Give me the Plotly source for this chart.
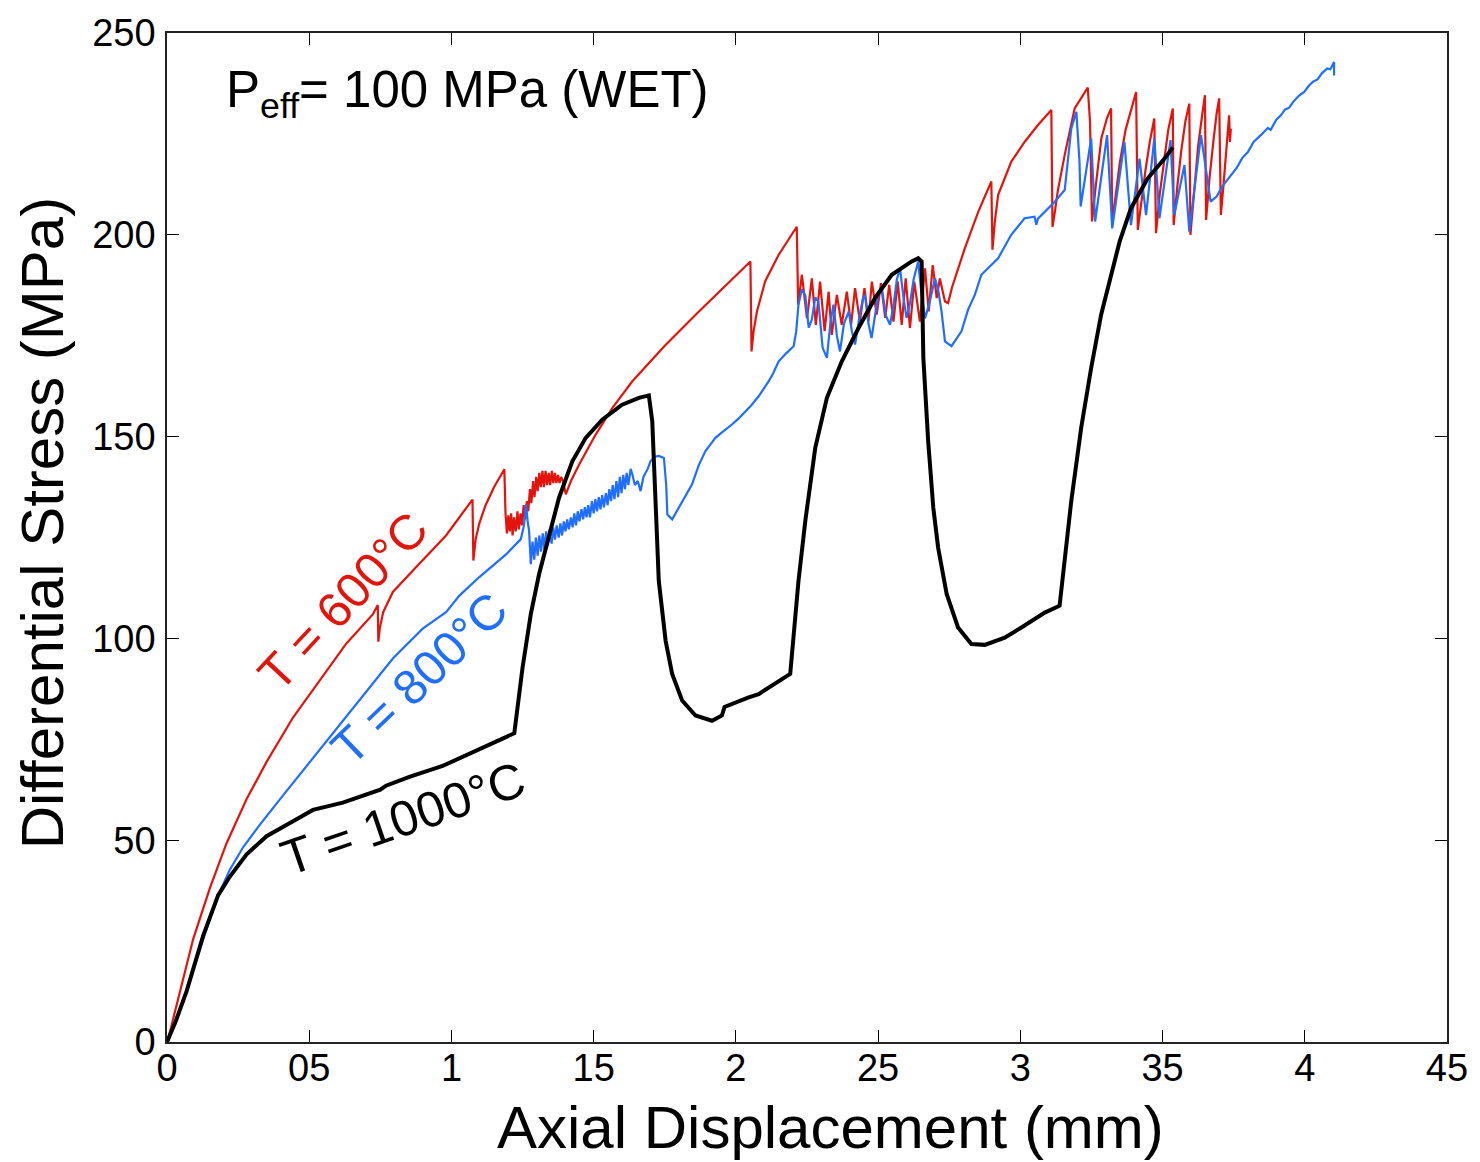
import plotly.graph_objects as go

# ---------------- data: axial displacement (mm) vs differential stress (MPa) ----------------
# T = 600 C
disp_600 = [
    0.000, 0.005, 0.046, 0.092, 0.151, 0.209, 0.280, 0.350, 0.443, 0.537, 0.630, 0.724, 0.741, 0.743,
    0.748, 0.760, 0.794, 0.887, 0.981, 1.074, 1.077, 1.085, 1.098, 1.120, 1.150, 1.186, 1.190, 1.195,
    1.200, 1.205, 1.210, 1.215, 1.220, 1.226, 1.232, 1.237, 1.243, 1.248, 1.254, 1.259, 1.265, 1.270,
    1.276, 1.281, 1.287, 1.292, 1.298, 1.303, 1.309, 1.314, 1.320, 1.325, 1.331, 1.336, 1.342, 1.347,
    1.353, 1.358, 1.364, 1.369, 1.375, 1.380, 1.386, 1.392, 1.398, 1.402, 1.420, 1.449, 1.507, 1.566,
    1.636, 1.750, 1.870, 2.010, 2.051, 2.055, 2.062, 2.074, 2.103, 2.150, 2.214, 2.219,
    2.232, 2.250, 2.267, 2.281, 2.296, 2.312, 2.326, 2.337, 2.355, 2.372, 2.390, 2.405, 2.419, 2.436,
    2.452, 2.466, 2.478, 2.495, 2.510, 2.525, 2.539, 2.554, 2.569, 2.583, 2.597, 2.612, 2.627, 2.647,
    2.665, 2.678, 2.692, 2.706, 2.717, 2.735, 2.746, 2.760, 2.780, 2.805, 2.852, 2.898, 2.902, 2.910,
    2.922, 2.968, 3.015, 3.062, 3.109, 3.113, 3.120, 3.132, 3.156, 3.191, 3.215, 3.237, 3.245, 3.252,
    3.265, 3.285, 3.305, 3.319, 3.323, 3.335, 3.350, 3.370, 3.390, 3.407, 3.413, 3.425, 3.440, 3.455,
    3.471, 3.477, 3.490, 3.505, 3.520, 3.536, 3.539, 3.552, 3.566, 3.580, 3.594, 3.598, 3.612, 3.625,
    3.638, 3.649, 3.653, 3.665, 3.680, 3.690, 3.699, 3.705, 3.715, 3.725, 3.734, 3.737, 3.740,
]
stress_600 = [
    0.0, 1.0, 12.6, 25.5, 38.2, 49.2, 60.2, 69.4, 80.4, 89.5, 98.7, 106.0, 108.3, 99.2,
    102.5, 106.5, 111.5, 118.5, 125.5, 134.4, 119.3, 124.5, 128.5, 133.0, 137.5, 141.9, 131.0, 126.0,
    130.5, 126.5, 131.0, 125.5, 130.0, 126.5, 131.5, 127.0, 131.0, 128.0, 133.0, 129.5, 134.0, 131.5,
    137.0, 133.5, 139.0, 135.0, 140.0, 136.5, 141.0, 137.5, 141.5, 137.5, 141.5, 138.0, 141.0, 138.0,
    141.5, 138.5, 141.0, 138.5, 140.5, 138.5, 140.0, 139.0, 137.0, 135.7, 139.0, 143.1, 150.5, 157.1,
    163.7, 172.5, 181.0, 190.5, 193.4, 171.1, 176.0, 181.0, 188.5, 195.0, 202.0, 182.7,
    190.1, 179.3, 189.2, 177.7, 188.4, 176.1, 185.9, 175.2, 185.1, 177.7, 185.9, 177.7, 186.8, 178.5,
    186.8, 178.5, 188.4, 180.2, 188.0, 179.4, 187.6, 178.5, 188.4, 177.7, 189.2, 176.9, 188.4, 178.5,
    191.7, 181.0, 192.5, 184.3, 189.2, 183.5, 183.1, 187.0, 191.5, 196.7, 205.7, 213.2, 196.3, 203.0,
    209.9, 218.1, 223.0, 227.2, 230.9, 202.0, 205.0, 211.0, 219.8, 231.3, 234.0, 236.5, 228.0, 203.3,
    212.0, 224.0, 229.0, 231.3, 203.0, 210.0, 218.0, 226.0, 231.0, 235.4, 201.2, 208.0, 216.0, 223.0,
    228.8, 200.4, 210.0, 218.0, 226.0, 231.3, 202.4, 212.0, 221.0, 228.0, 232.5, 200.0, 212.0, 222.0,
    229.0, 234.6, 203.7, 214.0, 224.0, 230.0, 233.8, 204.9, 213.0, 222.0, 229.6, 223.0, 226.3,
]

# T = 800 C
disp_800 = [
    0.000, 0.035, 0.069, 0.127, 0.180, 0.221, 0.268, 0.326, 0.408, 0.502, 0.595, 0.700, 0.794, 0.899,
    0.981, 1.028, 1.098, 1.192, 1.244, 1.255, 1.262, 1.268, 1.273, 1.279,
    1.285, 1.291, 1.297, 1.303, 1.309, 1.315, 1.321, 1.327, 1.333, 1.339, 1.345, 1.352, 1.358, 1.364,
    1.370, 1.377, 1.383, 1.389, 1.395, 1.401, 1.407, 1.413, 1.420, 1.426, 1.432, 1.438, 1.444, 1.450,
    1.457, 1.463, 1.469, 1.475, 1.481, 1.487, 1.494, 1.500, 1.506, 1.512, 1.518, 1.524, 1.530, 1.536,
    1.543, 1.549, 1.555, 1.561, 1.567, 1.573, 1.580, 1.586, 1.592, 1.598, 1.604, 1.610, 1.616, 1.622,
    1.630, 1.636, 1.645, 1.655, 1.665, 1.675, 1.690, 1.700, 1.715, 1.729, 1.747, 1.755, 1.759, 1.776,
    1.799, 1.820, 1.846, 1.870, 1.893, 1.910, 1.928, 1.950, 1.970, 1.986, 2.010, 2.030, 2.056, 2.080,
    2.100, 2.115, 2.130, 2.150, 2.175, 2.203, 2.212, 2.220,
    2.232, 2.244, 2.256, 2.267, 2.279, 2.290, 2.305, 2.320, 2.332, 2.343, 2.355, 2.366, 2.380, 2.397,
    2.408, 2.419, 2.435, 2.446, 2.454, 2.466, 2.477, 2.490, 2.502, 2.513, 2.527, 2.542, 2.555, 2.566,
    2.577, 2.590, 2.600, 2.612, 2.625, 2.641, 2.650, 2.665, 2.680, 2.700, 2.712, 2.723, 2.735, 2.758,
    2.793, 2.816, 2.840, 2.863, 2.922, 2.968, 3.015, 3.050, 3.056, 3.062, 3.086, 3.121, 3.156, 3.179,
    3.197, 3.208, 3.212, 3.249, 3.263, 3.305, 3.323, 3.366, 3.389, 3.419, 3.442, 3.471, 3.489, 3.528,
    3.541, 3.577, 3.594, 3.635, 3.669, 3.690, 3.710, 3.740, 3.760, 3.780, 3.800, 3.820, 3.834, 3.850,
    3.870, 3.880, 3.900, 3.916, 3.930, 3.945, 3.960, 3.980, 3.998, 4.015, 4.030, 4.045, 4.060, 4.079,
    4.090, 4.103, 4.103,
]
stress_800 = [
    0.0, 6.0, 12.6, 25.5, 36.4, 42.7, 48.3, 53.8, 61.1, 69.4, 77.6, 86.8, 95.0, 102.4,
    106.5, 110.6, 115.2, 120.8, 124.6, 128.0, 133.2, 129.0, 126.6, 118.4,
    124.0, 119.5, 125.0, 120.5, 125.5, 121.5, 126.0, 122.0, 126.5, 123.0, 127.0, 123.5, 127.5, 124.5,
    128.0, 125.0, 128.5, 125.5, 129.0, 126.5, 129.5, 127.0, 130.0, 127.5, 131.0, 128.0, 131.5, 129.0,
    132.0, 129.5, 132.5, 130.0, 133.0, 130.0, 134.0, 131.0, 134.5, 131.5, 135.0, 132.0, 135.5, 132.5,
    136.0, 133.0, 137.0, 134.0, 138.0, 134.5, 139.0, 135.0, 140.0, 136.0, 140.5, 137.0, 141.0, 138.0,
    142.0, 140.6, 138.0, 139.0, 136.5, 140.0, 142.0, 143.9, 145.0, 145.2, 144.7, 138.0, 130.7, 129.5,
    132.4, 135.0, 138.2, 143.0, 146.4, 148.0, 149.7, 151.0, 152.0, 153.0, 154.5, 156.0, 157.9, 160.0,
    162.0, 163.7, 165.5, 168.6, 170.5, 172.4, 176.0, 182.7,
    186.5, 185.0, 177.0, 179.0, 184.5, 183.5, 172.0, 169.5, 178.0, 182.7, 175.0, 171.1, 178.0, 181.0,
    176.0, 172.8, 180.0, 184.0, 185.1, 178.0, 174.4, 181.0, 186.0, 186.8, 180.0, 177.7, 183.0, 189.0,
    191.7, 184.0, 179.4, 183.0, 189.0, 193.4, 187.0, 179.3, 183.0, 189.2, 186.0, 181.0, 173.6, 172.4,
    176.1, 181.4, 185.1, 190.1, 194.2, 200.0, 204.1, 204.5, 202.5, 204.0, 205.7, 208.2, 211.1, 226.3,
    230.5, 218.1, 207.0, 223.9, 203.3, 224.7, 201.6, 223.0, 202.4, 218.9, 204.9, 223.9, 204.1, 223.5,
    204.9, 217.3, 200.8, 224.7, 208.2, 209.5, 212.0, 214.8, 216.5, 219.0, 220.5, 223.0, 223.9, 225.0,
    226.5, 226.0, 228.5, 229.6, 231.0, 231.5, 233.0, 234.5, 235.4, 237.0, 238.0, 238.5, 240.0, 241.2,
    241.0, 242.8, 239.5,
]

# T = 1000 C
disp_1000 = [
    0.000, 0.030, 0.069, 0.127, 0.180, 0.221, 0.280, 0.350, 0.443, 0.513, 0.618, 0.724, 0.750, 0.770,
    0.852, 0.969, 1.086, 1.221, 1.250, 1.279, 1.308, 1.343, 1.378, 1.425, 1.472, 1.530, 1.600, 1.659,
    1.694, 1.706, 1.718, 1.729, 1.753, 1.776, 1.811, 1.858, 1.916, 1.951, 1.960, 1.986, 2.045, 2.080,
    2.127, 2.191, 2.220, 2.244, 2.279, 2.320, 2.372, 2.431, 2.489, 2.548, 2.618, 2.641, 2.653, 2.659,
    2.676, 2.694, 2.711, 2.741, 2.781, 2.828, 2.875, 2.945, 3.004, 3.086, 3.138, 3.156, 3.179, 3.214,
    3.249, 3.284, 3.319, 3.349, 3.389, 3.448, 3.507, 3.536,
]
stress_1000 = [
    0.0, 5.0, 12.6, 26.3, 36.4, 41.0, 46.5, 51.0, 54.7, 57.5, 59.3, 62.0, 62.5, 63.5,
    65.7, 68.4, 72.1, 76.5, 92.8, 106.0, 115.9, 125.8, 134.8, 143.9, 149.7, 154.2, 157.9, 159.6,
    160.2, 153.8, 130.7, 114.2, 99.4, 91.2, 84.6, 80.9, 79.6, 80.9, 83.0, 83.8, 85.4, 86.2,
    88.3, 91.2, 114.2, 129.1, 147.2, 159.6, 168.6, 176.9, 184.3, 190.1, 193.4, 194.2, 193.4, 169.5,
    148.9, 132.4, 122.5, 111.0, 102.7, 98.6, 98.4, 100.2, 102.7, 106.4, 108.1, 120.0, 134.0, 152.2,
    167.0, 180.2, 190.1, 198.3, 206.6, 214.0, 218.9, 221.6,
]

x_tickvals = [0, 0.5, 1, 1.5, 2, 2.5, 3, 3.5, 4, 4.5]
x_ticktext = ["0", "05", "1", "15", "2", "25", "3", "35", "4", "45"]
y_tickvals = [0, 50, 100, 150, 200, 250]

RED = "#E3140C"
BLUE = "#1F6EFF"
BLACK = "#000000"
FONT = "Liberation Sans, Arial, Helvetica, sans-serif"

fig = go.Figure()
fig.add_trace(go.Scatter(x=disp_600, y=stress_600, mode="lines",
                         line=dict(color=RED, width=2.2), name="T = 600°C"))
fig.add_trace(go.Scatter(x=disp_800, y=stress_800, mode="lines",
                         line=dict(color=BLUE, width=2.2), name="T = 800°C"))
fig.add_trace(go.Scatter(x=disp_1000, y=stress_1000, mode="lines",
                         line=dict(color=BLACK, width=4), name="T = 1000°C"))

axis_common = dict(
    ticks="inside", ticklen=12, tickwidth=1.2, tickcolor="black",
    showline=True, linecolor="#222", linewidth=1.5, mirror="ticks",
    showgrid=False, zeroline=False,
    tickfont=dict(family=FONT, size=38, color="black"),
)

fig.update_layout(
    width=1480, height=1162,
    margin=dict(l=167, r=30, t=31, b=120),
    paper_bgcolor="white", plot_bgcolor="white",
    showlegend=False,
    font=dict(family=FONT, color="black"),
    xaxis=dict(range=[0, 4.5], tickmode="array", tickvals=x_tickvals, ticktext=x_ticktext,
               ticklabelstandoff=-8, **axis_common),
    yaxis=dict(range=[0, 250], tickmode="array", tickvals=y_tickvals,
               ticklabelstandoff=2, **axis_common),
)

annotations = [
    dict(text="Axial Displacement (mm)", x=0.518, y=-0.085, xref="paper", yref="paper",
         xanchor="center", yanchor="middle", showarrow=False,
         font=dict(family=FONT, size=60, color="black")),
    dict(text="Differential Stress (MPa)", x=-0.097, y=0.514, xref="paper", yref="paper",
         xanchor="center", yanchor="middle", textangle=-90, showarrow=False,
         font=dict(family=FONT, size=60, color="black")),
    dict(text="P<sub>eff</sub>= 100 MPa (WET)", x=0.0445, y=0.94, xref="paper", yref="paper",
         xanchor="left", yanchor="middle", showarrow=False,
         font=dict(family=FONT, size=51, color="black")),
    dict(text="T = 600°C", x=0.1375, y=0.437, xref="paper", yref="paper",
         xanchor="center", yanchor="middle", textangle=-47, showarrow=False,
         font=dict(family=FONT, size=49, color=RED)),
    dict(text="T = 800°C", x=0.197, y=0.361, xref="paper", yref="paper",
         xanchor="center", yanchor="middle", textangle=-44, showarrow=False,
         font=dict(family=FONT, size=49, color=BLUE)),
    dict(text="T = 1000°C", x=0.184, y=0.221, xref="paper", yref="paper",
         xanchor="center", yanchor="middle", textangle=-19, showarrow=False,
         font=dict(family=FONT, size=50, color=BLACK)),
]
fig.update_layout(annotations=annotations)

fig.write_html("out.html", include_plotlyjs=True, config={"displayModeBar": False})
